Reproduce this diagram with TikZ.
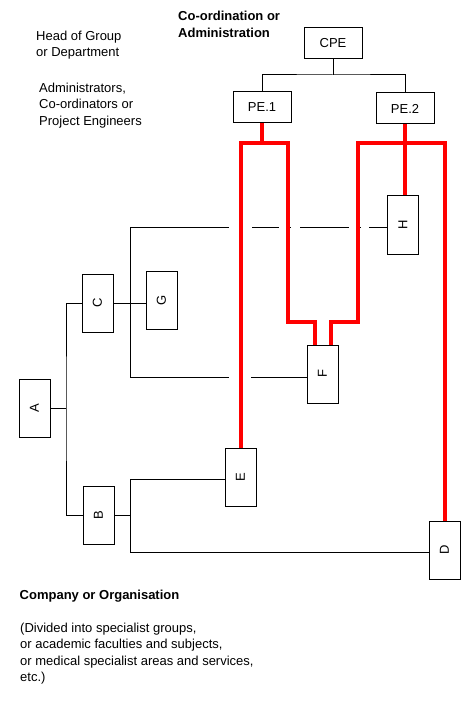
\documentclass[tikz,border=0pt]{standalone}
\usepackage{fontspec}
\setmainfont{Liberation Sans}
\usepackage{graphicx}
\usepackage{tikz}
\usetikzlibrary{positioning,calc}

\begin{document}
\begin{tikzpicture}[x=1pt,y=-1pt,
  every node/.style={font=\fontsize{13}{16.5}\selectfont},
  unit/.style={draw, line width=1pt, inner sep=0pt, minimum width=31pt, minimum height=58pt},
  head/.style={draw, line width=1pt, inner sep=0pt, minimum width=58pt, minimum height=31pt},
  wire/.style={line width=1pt},
  link/.style={draw=red, line width=4pt},
  note/.style={align=left, inner sep=0pt, anchor=north west}]
\useasboundingbox (0,0) rectangle (469,727);

% coordination side
\node[head] (CPE) at (333,43.5) {CPE};
\node[head] (PE1) at (262,107.5) {PE.1};
\node[head] (PE2) at (405,108.5) {PE.2};

% company side
\node[unit] (A) at (34.5,408) {\rotatebox{90}{A}};
\node[unit] (C) at (97.5,303) {\rotatebox{90}{C}};
\node[unit] (B) at (98.5,515) {\rotatebox{90}{B}};
\node[unit] (G) at (161.5,300) {\rotatebox{90}{G}};
\node[unit] (E) at (240.5,477) {\rotatebox{90}{E}};
\node[unit] (F) at (322.5,374) {\rotatebox{90}{F}};
\node[unit] (H) at (403,225) {\rotatebox{90}{H}};
\node[unit] (D) at (444.5,550) {\rotatebox{90}{D}};

% black tree
\coordinate (cpebus) at (333,75);
\draw[wire] (CPE.south) -- (cpebus);
\draw[wire] (PE1.north) |- (cpebus) -| (PE2.north);

\coordinate (abus) at (66,408);
\draw[wire] (A.east) -- (abus);
\draw[wire] (C.west) -| (abus) |- (B.west);

\coordinate (ctop) at (130,227);
\coordinate (cbot) at (130,377);
\draw[wire] (C.east) -- (C.east -| G.west);
\draw[wire] (ctop) -- (cbot);
\draw[wire, dash pattern=on 99pt off 10pt on 4pt off 9pt on 27pt off 8pt on 4pt off 9pt on 49pt off 8pt on 4pt off 8pt on 30pt]
  (ctop) -- (ctop -| H.west);
\draw[wire, dash pattern=on 99pt off 10pt on 4pt off 8pt on 70pt]
  (cbot) -- (cbot -| F.west);

\coordinate (btop) at (130,479);
\coordinate (bbot) at (130,552);
\draw[wire] (B.east) -- (B.east -| btop);
\draw[wire] (btop) -- (bbot);
\draw[wire] (btop) -- (btop -| E.west);
\draw[wire] (bbot) -- (bbot -| D.west);

% red project links
\draw[link] (PE1.south) -- (PE1.south |- 0,143);
\draw[link] (E.north) |- (288,143) |- ([xshift=-7.5pt]F.north |- 0,322) -- ([xshift=-7.5pt]F.north);
\draw[link] (PE2.south) -- (PE2.south |- H.north);
\draw[link] ([xshift=8pt]F.north) |- (358,322) |- (D.north |- 0,143) -- (D.north);

% texts
\node[note, font=\fontsize{13}{16.5}\selectfont\bfseries] (coord) at (178,11) {Co-ordination or\\Administration};
\node[note] (headtxt) at (36,30.5) {Head of Group\\or Department};
\node[note] (admtxt) at (39,82.5) {Administrators,\\Co-ordinators or\\Project Engineers};
\node[note, font=\fontsize{13}{16.5}\selectfont\bfseries] (comp) at (19.5,590) {Company or Organisation};
\node[note] (divtxt) at (20,622.5) {(Divided into specialist groups,\\or academic faculties and subjects,\\or medical specialist areas and services,\\etc.)};
\end{tikzpicture}
\end{document}
